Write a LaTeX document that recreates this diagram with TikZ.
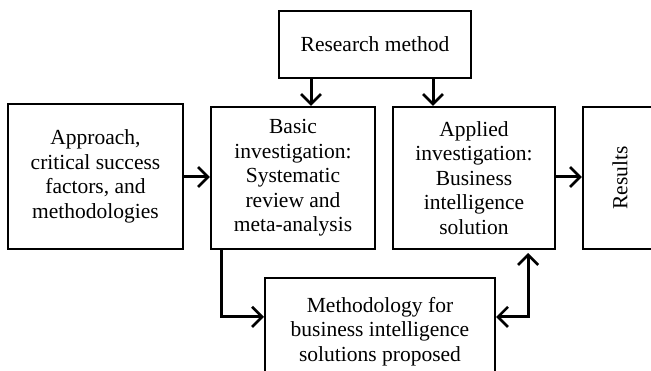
\documentclass[tikz,border=0pt]{standalone}
\usepackage{fontspec}
\setmainfont{Liberation Serif}
\usetikzlibrary{arrows.meta}
\tikzset{%
    blk/.style={draw,line width=2.2pt,align=center,inner sep=0pt,
        font=\fontsize{21.5}{24.5}\selectfont},
    arr/.style={line width=3pt,-{Straight Barb[length=10pt,width=20pt,line width=2.6pt]}}
}

\begin{document}
\begin{tikzpicture}[x=1pt,y=-1pt]
        \useasboundingbox (0,0) rectangle (651,371);
        \clip (0,0) rectangle (651,371);

        \node[blk,minimum width=192pt,minimum height=67pt] (rm) at (375,44.5) {Research method};

        \node[blk,minimum width=175pt,minimum height=145pt] (ap) at (95.5,176.5)
            {Approach,\\ critical success\\ factors, and\\ methodologies};
        \node[blk,minimum width=164pt,minimum height=142pt] (bi) at (293,178)
            {Basic\\ investigation:\\ Systematic\\ review and\\ meta-analysis};
        \node[blk,minimum width=162pt,minimum height=142pt] (ai) at (474,178)
            {Applied\\ investigation:\\ Business\\ intelligence\\ solution};
        \node[blk,minimum width=74pt,minimum height=142pt] (rs) at (620,178)
            {\rotatebox{90}{Results}};

        \node[blk,minimum width=230pt,minimum height=102pt,text depth=0pt] (mt) at (380,329)
            {Methodology for\\ business intelligence\\ solutions proposed};

        \draw[arr] ([xshift=-64pt]rm.south) -- ([xshift=-64pt]rm.south |- bi.north);
        \draw[arr] ([xshift=58pt]rm.south) -- ([xshift=58pt]rm.south |- ai.north);

        \draw[arr] (ap.east |- 0,177) -- (bi.west |- 0,177);
        \draw[arr] (ai.east |- 0,177) -- (rs.west |- 0,177);

        % lower loop
        \draw[arr] ([xshift=12pt]bi.south west) |- ([yshift=-40pt]mt.north west);
        \draw[arr,{Straight Barb[length=10pt,width=20pt,line width=2.6pt]}-{Straight Barb[length=10pt,width=20pt,line width=2.6pt]},shorten >=3pt]
            ([yshift=-40pt]mt.north east) -| ([xshift=-28pt]ai.south east);
    \end{tikzpicture}
\end{document}
